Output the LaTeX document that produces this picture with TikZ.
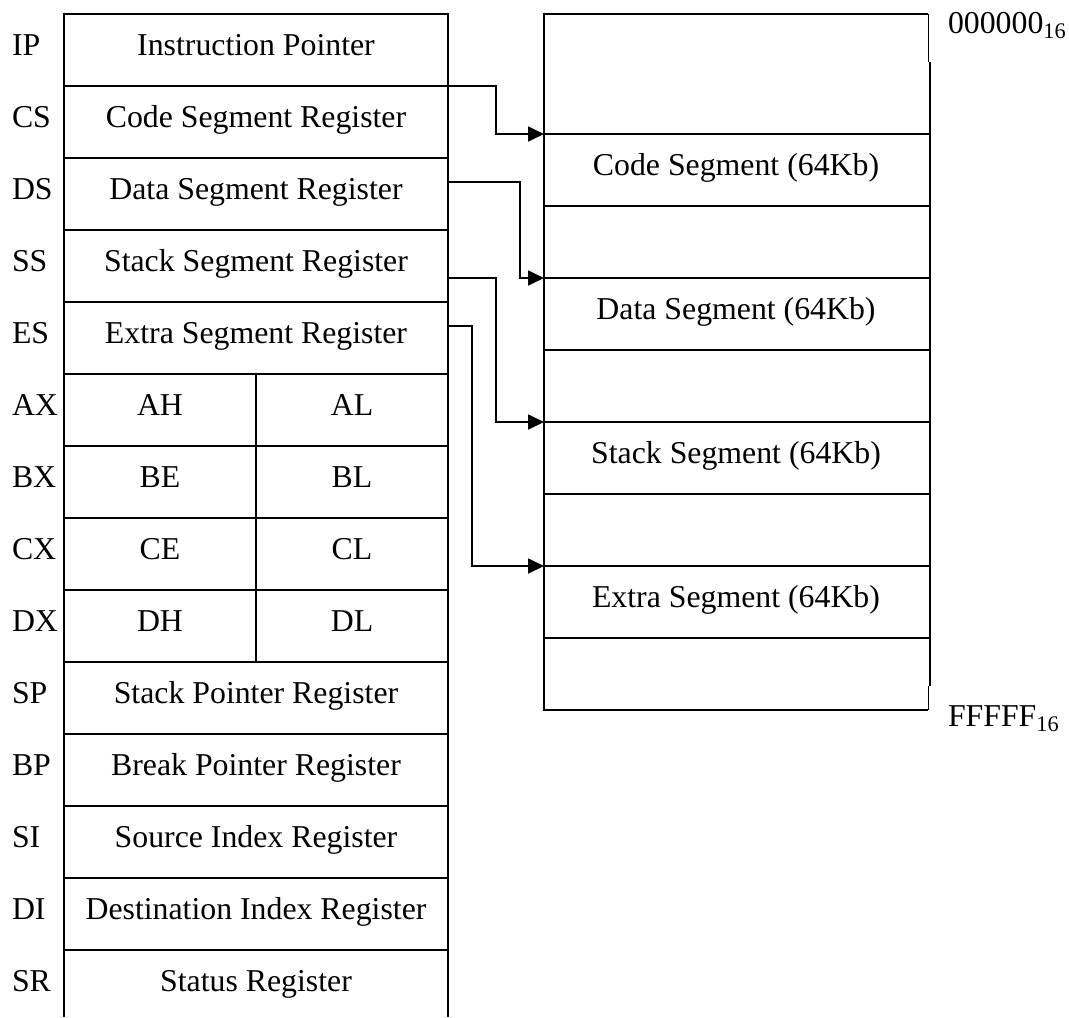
\documentclass[tikz,border=0pt]{standalone}
\usepackage{fontspec}
\setmainfont{Liberation Serif}
\usetikzlibrary{arrows.meta}
\begin{document}
\begin{tikzpicture}[x=0.5pt,y=-0.5pt,
  every node/.style={font=\fontsize{15.9}{18}\selectfont},
  cell/.style={draw, line width=0.85pt, inner sep=0pt, outer sep=0pt,
    minimum height=36pt, text height=11.4pt, text depth=6.4pt},
  wide/.style={cell, minimum width=192pt},
  half/.style={cell, minimum width=96pt},
  memcell/.style={inner sep=0pt, outer sep=0pt, minimum width=192pt,
    minimum height=36pt, text height=11.4pt, text depth=6.4pt},
  lab/.style={anchor=base west, inner sep=0pt, outer sep=0pt},
  frame/.style={line width=0.85pt},
  thin/.style={line width=0.45pt},
  conn/.style={line width=0.85pt, -{Triangle[length=8pt,width=7.5pt]}}
]
\useasboundingbox (0,0) rectangle (1069,1017);

% ---- register table ----
\node[wide] (ip) at (256,50)  {Instruction Pointer};
\node[wide] (cs) at (256,122) {Code Segment Register};
\node[wide] (ds) at (256,194) {Data Segment Register};
\node[wide] (ss) at (256,266) {Stack Segment Register};
\node[wide] (es) at (256,338) {Extra Segment Register};
\node[half] (ah) at (160,410) {AH};
\node[half] (al) at (352,410) {AL};
\node[half] (bh) at (160,482) {BE};
\node[half] (bl) at (352,482) {BL};
\node[half] (ch) at (160,554) {CE};
\node[half] (cl) at (352,554) {CL};
\node[half] (dh) at (160,626) {DH};
\node[half] (dl) at (352,626) {DL};
\node[wide] (sp) at (256,698) {Stack Pointer Register};
\node[wide] (bp) at (256,770) {Break Pointer Register};
\node[wide] (si) at (256,842) {Source Index Register};
\node[wide] (di) at (256,914) {Destination Index Register};
\node[memcell] (sr) at (256,986) {Status Register};
\draw[frame] (sr.north west) -- (64,1017);
\draw[frame] (sr.north east) -- (448,1017);

% ---- register names ----
\node[lab] (lip) at (12,55)  {IP};
\node[lab] (lcs) at (12,127) {CS};
\node[lab] (lds) at (12,199) {DS};
\node[lab] (lss) at (12,271) {SS};
\node[lab] (les) at (12,343) {ES};
\node[lab] (lax) at (12,415) {AX};
\node[lab] (lbx) at (12,487) {BX};
\node[lab] (lcx) at (12,559) {CX};
\node[lab] (ldx) at (12,631) {DX};
\node[lab] (lsp) at (12,703) {SP};
\node[lab] (lbp) at (12,775) {BP};
\node[lab] (lsi) at (12,847) {SI};
\node[lab] (ldi) at (12,919) {DI};
\node[lab] (lsr) at (12,991) {SR};

% ---- memory map ----
\node[memcell, minimum height=60pt] (m0) at (736,74) {};
\node[memcell] (code)  at (736,170) {Code Segment (64Kb)};
\node[memcell] (g1)    at (736,242) {};
\node[memcell] (data)  at (736,314) {Data Segment (64Kb)};
\node[memcell] (g2)    at (736,386) {};
\node[memcell] (stack) at (736,458) {Stack Segment (64Kb)};
\node[memcell] (g3)    at (736,530) {};
\node[memcell] (extra) at (736,602) {Extra Segment (64Kb)};
\node[memcell] (g4)    at (736,674) {};

\draw[frame] (m0.north east) -- (m0.north west) -- (g4.south west) -- (g4.south east);
\foreach \c in {code,g1,data,g2,stack,g3,extra,g4}
  \draw[frame] (\c.north west) -- ([xshift=1pt]\c.north east);
\draw[thin] (m0.north east) -- ++(0,48);
\draw[frame] ([xshift=1pt]m0.north east) ++(0,48) -- ([xshift=1pt,yshift=12pt]g4.south east);
\draw[thin] (g4.south east) -- ++(0,-24);

\node[lab] (top) at (948,33) {000000\textsubscript{16}};
\node[lab] (bot) at (948,726) {FFFFF\textsubscript{16}};

% ---- connectors ----
\draw[conn] (cs.north east) -- ++(48,0) |- (code.north west);
\draw[conn] ([yshift=6pt]ds.east) -- ++(72,0) |- (data.north west);
\draw[conn] ([yshift=-6pt]ss.east) -- ++(48,0) |- (stack.north west);
\draw[conn] ([yshift=6pt]es.east) -- ++(24,0) |- (extra.north west);
\end{tikzpicture}
\end{document}
